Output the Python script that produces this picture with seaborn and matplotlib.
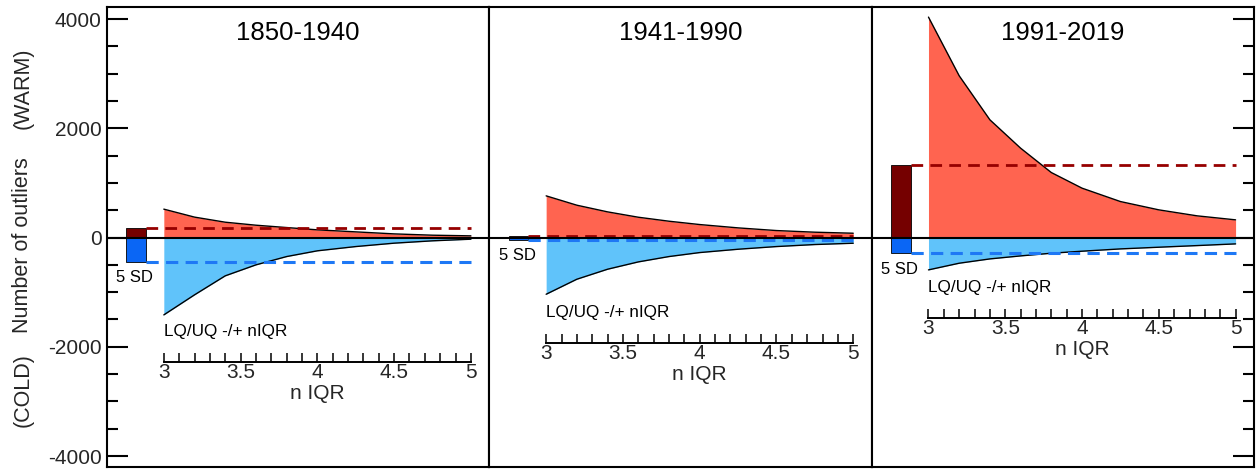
import numpy as np
import matplotlib
matplotlib.use("Agg")
import matplotlib.pyplot as plt
from matplotlib.ticker import MultipleLocator
import seaborn as sns

# ---------------- data ----------------
periods = ["1850-1940", "1941-1990", "1991-2019"]
n_iqr = [3.0, 3.2, 3.4, 3.6, 3.8, 4.0, 4.25, 4.5, 4.75, 5.0]

warm_1850 = [520, 374, 281, 226, 183, 141, 104, 67, 43, 31]
cold_1850 = [-1416, -1049, -701, -500, -348, -243, -165, -103, -60, -30]
warm_1941 = [763, 592, 470, 372, 299, 238, 177, 128, 98, 79]
cold_1941 = [-1038, -763, -580, -446, -348, -275, -214, -165, -128, -104]
warm_1991 = [4035, 2961, 2155, 1636, 1190, 904, 659, 507, 397, 324]
cold_1991 = [-592, -470, -391, -336, -287, -250, -208, -177, -147, -116]

sd5_warm = [170, 30, 1330]
sd5_cold = [-450, -45, -290]

ruler_levels = [-2286, -1937, -1480]
ruler_ticks = [3, 3.5, 4, 4.5, 5]
ruler_ticklabels = ["3", "3.5", "4", "4.5", "5"]
yticks = [-4000, -2000, 0, 2000, 4000]

warm_all = [warm_1850, warm_1941, warm_1991]
cold_all = [cold_1850, cold_1941, cold_1991]

# ---------------- style ----------------
sns.set_theme(style="white")
plt.rcParams["font.family"] = ["Liberation Sans", "DejaVu Sans"]
plt.rcParams["axes.linewidth"] = 1.5
plt.rcParams["axes.edgecolor"] = "black"

C_WARM_FILL = "#FF6450"
C_COLD_FILL = "#60C3FA"
C_WARM_BAR = "#750000"
C_COLD_BAR = "#0A66F5"
C_WARM_DASH = "#960000"
C_COLD_DASH = "#1E78F5"

fig = plt.figure(figsize=(12.56, 4.70), dpi=100)
gs = fig.add_gridspec(1, 3, left=107 / 1256, right=1254 / 1256,
                      top=1 - 7 / 470, bottom=1 - 467 / 470, wspace=0)
axes = [fig.add_subplot(gs[0, i]) for i in range(3)]

bar_x = 2.82
bar_w = 0.13

for i, ax in enumerate(axes):
    n = np.array(n_iqr)
    w = np.array(warm_all[i])
    c = np.array(cold_all[i])
    ax.fill_between(n, 0, w, color=C_WARM_FILL, lw=0, zorder=1)
    ax.fill_between(n, 0, c, color=C_COLD_FILL, lw=0, zorder=1)
    sns.lineplot(x=n, y=w, color="black", lw=1.0, ax=ax, zorder=2)
    sns.lineplot(x=n, y=c, color="black", lw=1.0, ax=ax, zorder=2)

    ax.bar([bar_x], [sd5_warm[i]], width=bar_w, color=C_WARM_BAR,
           edgecolor="black", lw=0.6, zorder=2)
    ax.bar([bar_x], [sd5_cold[i]], width=bar_w, color=C_COLD_BAR,
           edgecolor="black", lw=0.6, zorder=2)

    x0 = bar_x + bar_w / 2
    ax.plot([x0, 5.0], [sd5_warm[i]] * 2, color=C_WARM_DASH, lw=2.0,
            dashes=(4.2, 2.6), zorder=4)
    ax.plot([x0, 5.0], [sd5_cold[i]] * 2, color=C_COLD_DASH, lw=2.2,
            dashes=(4.0, 2.4), zorder=4)

    ax.axhline(0, color="black", lw=1.5, zorder=5)

    ax.set_xlim(2.63, 5.12)
    ax.set_ylim(-4200, 4220)
    ax.set_xticks([])
    ax.set_xlabel("")
    ax.set_ylabel("")

    ax.text(0.5, 0.943, periods[i], transform=ax.transAxes, ha="center",
            va="center", fontsize=18.5, color="black")

    # 5 SD label
    ax.annotate("5 SD", xy=(bar_x, sd5_cold[i]), xytext=(-1, -6),
                textcoords="offset points", ha="center", va="top",
                fontsize=12, color="black")

    # ruler
    ry = ruler_levels[i]
    ax.text(3.0, ry + 560, "LQ/UQ -/+ nIQR", ha="left", va="center",
            fontsize=12.3, color="black")
    rax = ax.inset_axes([3.0, ry, 2.0, 60], transform=ax.transData)
    rax.set_xlim(3, 5)
    rax.patch.set_alpha(0)
    for s in ["top", "left", "right"]:
        rax.spines[s].set_visible(False)
    rax.spines["bottom"].set_linewidth(1.4)
    rax.set_yticks([])
    rax.set_xticks(ruler_ticks)
    rax.set_xticklabels(ruler_ticklabels)
    rax.xaxis.set_minor_locator(MultipleLocator(0.1))
    rax.tick_params(axis="x", which="both", direction="in", length=6.5,
                    width=1.1, color="black", pad=0.5, labelsize=15,
                    bottom=True, top=False)
    rax.set_xlabel("n IQR", fontsize=15, labelpad=1.5)

    # y ticks
    ax.yaxis.set_major_locator(MultipleLocator(2000))
    ax.yaxis.set_minor_locator(MultipleLocator(500))
    ax.tick_params(axis="y", which="major", direction="in", length=15,
                   width=1.5, labelsize=15, pad=4, color="black")
    ax.tick_params(axis="y", which="minor", direction="in", length=8,
                   width=1.5, color="black")
    if i == 0:
        ax.tick_params(axis="y", which="both", left=True, right=False,
                       labelleft=True)
        ax.set_yticks(yticks)
        ax.set_yticklabels([str(v) for v in yticks])
    elif i == 2:
        ax.tick_params(axis="y", which="both", left=False, right=True,
                       labelleft=False, labelright=False)
    else:
        ax.tick_params(axis="y", which="both", left=False, right=False,
                       labelleft=False)

fig.text(23 / 1256, 1 - 88 / 470, "(WARM)", rotation=90, ha="center",
         va="center", fontsize=15.5)
fig.text(23 / 1256, 1 - 245 / 470, "Number of outliers", rotation=90,
         ha="center", va="center", fontsize=15.5)
fig.text(23 / 1256, 1 - 390 / 470, "(COLD)", rotation=90, ha="center",
         va="center", fontsize=15.5)

fig.savefig("out.png", dpi=100)
